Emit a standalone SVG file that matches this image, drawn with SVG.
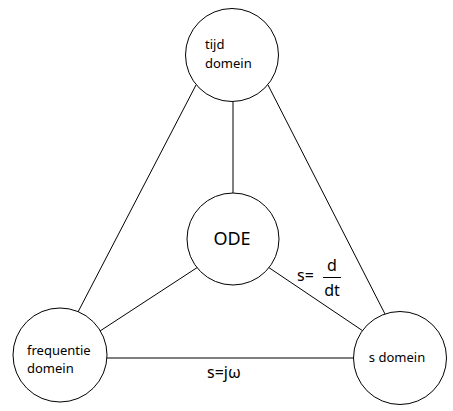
<svg xmlns="http://www.w3.org/2000/svg" width="453" height="411" viewBox="0 0 453 411">
<style>
.n{fill:#fff;stroke:#000;stroke-width:1}
.c line{stroke:#000;stroke-width:1}
text{font-family:"Noto Sans","Liberation Sans",sans-serif;fill:#000}
.s{font-size:13px}
.l{font-size:16px}
</style>
<rect width="453" height="411" fill="#fff"/>
<g id="connectors" class="c">
<line x1="233" y1="102" x2="233" y2="193"/>
<line x1="196" y1="85" x2="78" y2="312"/>
<line x1="268" y1="85" x2="385" y2="314"/>
<line x1="198" y1="267" x2="100" y2="331"/>
<line x1="268" y1="267" x2="366" y2="333"/>
<line x1="107" y1="358" x2="354" y2="358"/>
</g>
<g id="tijd">
<circle class="n" cx="232" cy="55" r="46.5"/>
<text class="s" x="205" y="49">tijd</text>
<text class="s" x="205" y="68">domein</text>
</g>
<g id="ode">
<circle class="n" cx="233" cy="239" r="46"/>
<text x="232" y="245" font-size="18" text-anchor="middle">ODE</text>
</g>
<g id="frequentie">
<circle class="n" cx="60" cy="355" r="47"/>
<text class="s" x="27" y="355">frequentie</text>
<text class="s" x="27" y="373">domein</text>
</g>
<g id="sdomein">
<circle class="n" cx="400" cy="358" r="46.5"/>
<text class="s" x="397" y="362" text-anchor="middle">s domein</text>
</g>
<g id="labels">
<text class="l" x="297" y="281">s=</text>
<text class="l" x="332" y="271" text-anchor="middle">d</text>
<line x1="323" y1="277.5" x2="341" y2="277.5" stroke="#000"/>
<text class="l" x="332" y="296" text-anchor="middle">dt</text>
<text class="l" x="207" y="378">s=jω</text>
</g>
</svg>
